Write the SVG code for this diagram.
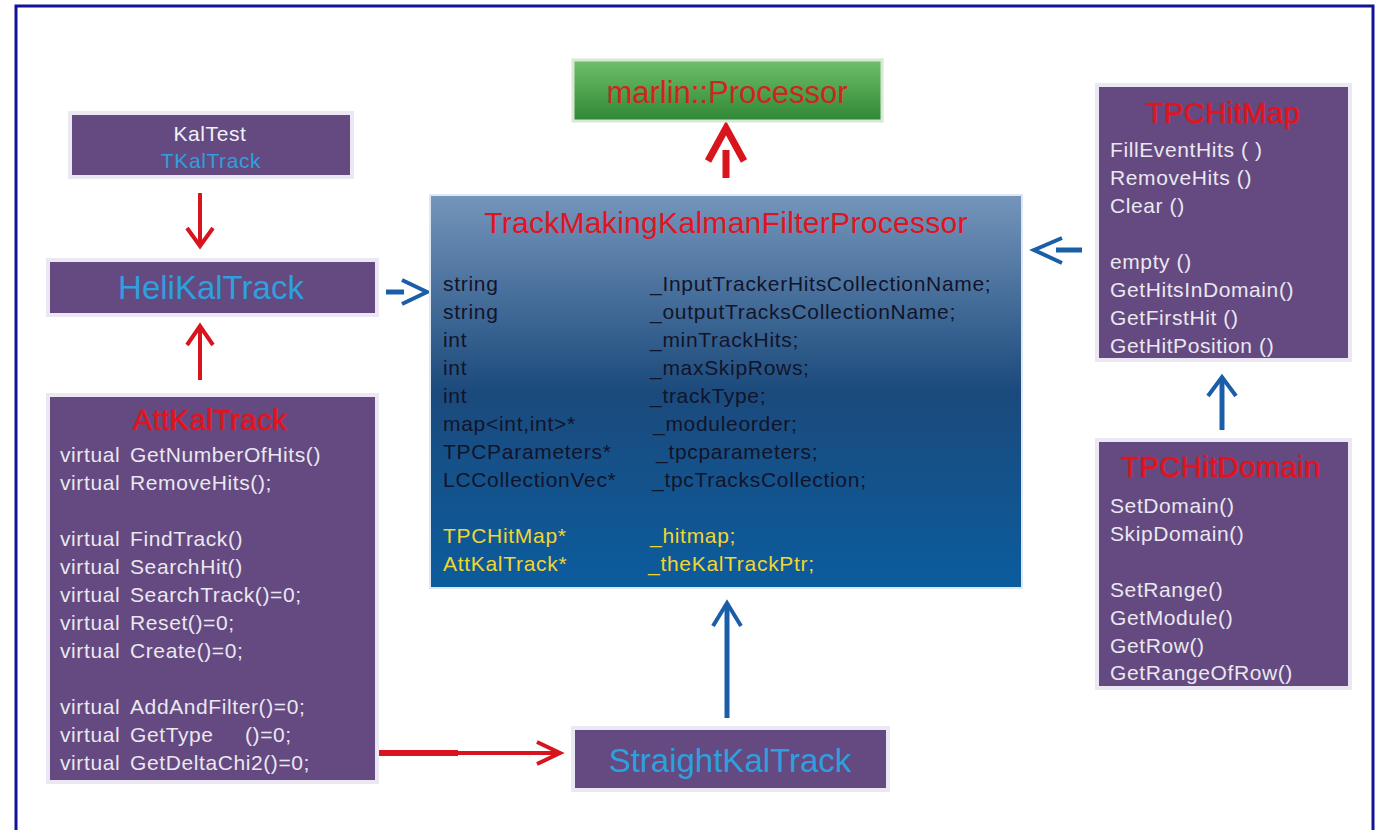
<svg xmlns="http://www.w3.org/2000/svg" width="1377" height="830" viewBox="0 0 1377 830">
<defs>
<linearGradient id="gBlue" x1="0" y1="0" x2="0" y2="1">
<stop offset="0" stop-color="#7595bb"/>
<stop offset="0.5" stop-color="#1b4a7c"/>
<stop offset="1" stop-color="#0b5c9e"/>
</linearGradient>
<linearGradient id="gGreen" x1="0" y1="0" x2="0" y2="1">
<stop offset="0" stop-color="#6fbf6b"/>
<stop offset="1" stop-color="#2f8734"/>
</linearGradient>
</defs>
<style>
.frame{fill:#ffffff;stroke:#12129a;stroke-width:3}
.box{fill:#644a80;stroke:#ece8f3;stroke-width:4}
.t{font-family:"Liberation Sans",Arial,sans-serif}
.body{font-size:21px;letter-spacing:0.6px;fill:#ebe7f0}
.field{font-size:21px;letter-spacing:0.7px;fill:#12142a}
.yel{fill:#f0d632}
.title{font-size:29px;letter-spacing:0.5px;fill:#e0141e;stroke:#e0141e;stroke-width:0.6;text-anchor:middle}
.big{font-size:33px;fill:#2f9fdf;text-anchor:middle}
.red{stroke:#d8141c;fill:none;stroke-linecap:butt;stroke-linejoin:miter}
.blue{stroke:#1a5ea8;fill:none;stroke-linecap:butt;stroke-linejoin:miter}
</style>
<rect class="frame" x="16" y="6" width="1357" height="840"/>

<g id="connectors">
<!-- KalTest -> HeliKalTrack -->
<line class="red" x1="200" y1="193" x2="200" y2="244" stroke-width="4"/>
<polyline class="red" points="187,228 200,246 213,228" stroke-width="4"/>
<!-- AttKalTrack -> HeliKalTrack -->
<line class="red" x1="200" y1="328" x2="200" y2="380" stroke-width="4"/>
<polyline class="red" points="187,345 200,326 213,345" stroke-width="4"/>
<!-- HeliKalTrack -> TrackMaking -->
<line class="blue" x1="386" y1="292" x2="404" y2="292" stroke-width="5"/>
<polyline class="blue" points="402,280 427,292 402,304" stroke-width="4"/>
<!-- TPCHitMap -> TrackMaking -->
<line class="blue" x1="1056" y1="250" x2="1082" y2="250" stroke-width="5"/>
<polyline class="blue" points="1062,238 1034,250 1062,263" stroke-width="4"/>
<!-- TPCHitDomain -> TPCHitMap -->
<line class="blue" x1="1222" y1="380" x2="1222" y2="430" stroke-width="5"/>
<polyline class="blue" points="1208,396 1222,377 1236,396" stroke-width="4"/>
<!-- StraightKalTrack -> TrackMaking -->
<line class="blue" x1="727" y1="604" x2="727" y2="718" stroke-width="5"/>
<polyline class="blue" points="713,626 727,603 741,626" stroke-width="4"/>
<!-- AttKalTrack -> StraightKalTrack -->
<line class="red" x1="377" y1="753" x2="458" y2="753" stroke-width="6"/>
<line class="red" x1="458" y1="753" x2="558" y2="753" stroke-width="4"/>
<polyline class="red" points="537,742 560,753 537,764" stroke-width="4"/>
<!-- TrackMaking -> marlin::Processor -->
<line class="red" x1="726" y1="150" x2="726" y2="178" stroke-width="7"/>
<polyline class="red" points="708,161 726,128 744,161" stroke-width="7"/>
</g>

<g id="marlinProcessor">
<rect x="573" y="60" width="309" height="61" fill="url(#gGreen)" stroke="#d7e8d4" stroke-width="3"/>
<text class="t" x="727" y="103" font-size="31" fill="#cc261e" text-anchor="middle">marlin::Processor</text>
</g>

<g id="kalTest">
<rect class="box" x="70" y="113" width="282" height="64"/>
<text class="t" x="210" y="141" font-size="21" letter-spacing="0.6" fill="#f2f0f5" text-anchor="middle">KalTest</text>
<text class="t" x="211" y="168" font-size="21" letter-spacing="0.6" fill="#2f9fdf" text-anchor="middle">TKalTrack</text>
</g>

<g id="heliKalTrack">
<rect class="box" x="48" y="260" width="329" height="55"/>
<text class="t big" x="211" y="299">HeliKalTrack</text>
</g>

<g id="attKalTrack">
<rect class="box" x="48" y="395" width="329" height="387"/>
<text class="t title" x="210" y="430">AttKalTrack</text>
<g class="t body">
<text x="60" y="462">virtual<tspan x="130">GetNumberOfHits()</tspan></text>
<text x="60" y="490">virtual<tspan x="130">RemoveHits();</tspan></text>
<text x="60" y="546">virtual<tspan x="130">FindTrack()</tspan></text>
<text x="60" y="574">virtual<tspan x="130">SearchHit()</tspan></text>
<text x="60" y="602">virtual<tspan x="130">SearchTrack()=0;</tspan></text>
<text x="60" y="630">virtual<tspan x="130">Reset()=0;</tspan></text>
<text x="60" y="658">virtual<tspan x="130">Create()=0;</tspan></text>
<text x="60" y="714">virtual<tspan x="130">AddAndFilter()=0;</tspan></text>
<text x="60" y="742">virtual<tspan x="130">GetType</tspan><tspan x="245">()=0;</tspan></text>
<text x="60" y="770">virtual<tspan x="130">GetDeltaChi2()=0;</tspan></text>
</g>
</g>

<g id="trackMakingKalmanFilterProcessor">
<rect x="430" y="195" width="592" height="393" fill="url(#gBlue)" stroke="#dfe8f2" stroke-width="2"/>
<text class="t" x="726" y="233" font-size="30" letter-spacing="0.3" fill="#e0141e" text-anchor="middle">TrackMakingKalmanFilterProcessor</text>
<g class="t field">
<text x="443" y="291">string<tspan x="650">_InputTrackerHitsCollectionName;</tspan></text>
<text x="443" y="319">string<tspan x="650">_outputTracksCollectionName;</tspan></text>
<text x="443" y="347">int<tspan x="650">_minTrackHits;</tspan></text>
<text x="443" y="375">int<tspan x="650">_maxSkipRows;</tspan></text>
<text x="443" y="403">int<tspan x="650">_trackType;</tspan></text>
<text x="443" y="431">map&lt;int,int&gt;*<tspan x="653">_moduleorder;</tspan></text>
<text x="443" y="459">TPCParameters*<tspan x="656">_tpcparameters;</tspan></text>
<text x="443" y="487">LCCollectionVec*<tspan x="652">_tpcTracksCollection;</tspan></text>
<text class="yel" x="443" y="543">TPCHitMap*<tspan x="650">_hitmap;</tspan></text>
<text class="yel" x="443" y="571">AttKalTrack*<tspan x="648">_theKalTrackPtr;</tspan></text>
</g>
</g>

<g id="tpcHitMap">
<rect class="box" x="1097" y="85" width="253" height="275"/>
<text class="t title" x="1223" y="123">TPCHitMap</text>
<g class="t body">
<text x="1110" y="157">FillEventHits ( )</text>
<text x="1110" y="185">RemoveHits ()</text>
<text x="1110" y="213">Clear ()</text>
<text x="1110" y="269">empty ()</text>
<text x="1110" y="297">GetHitsInDomain()</text>
<text x="1110" y="325">GetFirstHit ()</text>
<text x="1110" y="353">GetHitPosition ()</text>
</g>
</g>

<g id="tpcHitDomain">
<rect class="box" x="1097" y="440" width="253" height="248"/>
<text class="t title" x="1221" y="477">TPCHitDomain</text>
<g class="t body">
<text x="1110" y="513">SetDomain()</text>
<text x="1110" y="541">SkipDomain()</text>
<text x="1110" y="597">SetRange()</text>
<text x="1110" y="625">GetModule()</text>
<text x="1110" y="653">GetRow()</text>
<text x="1110" y="680">GetRangeOfRow()</text>
</g>
</g>

<g id="straightKalTrack">
<rect class="box" x="573" y="728" width="315" height="62"/>
<text class="t big" x="730" y="772">StraightKalTrack</text>
</g>
</svg>
